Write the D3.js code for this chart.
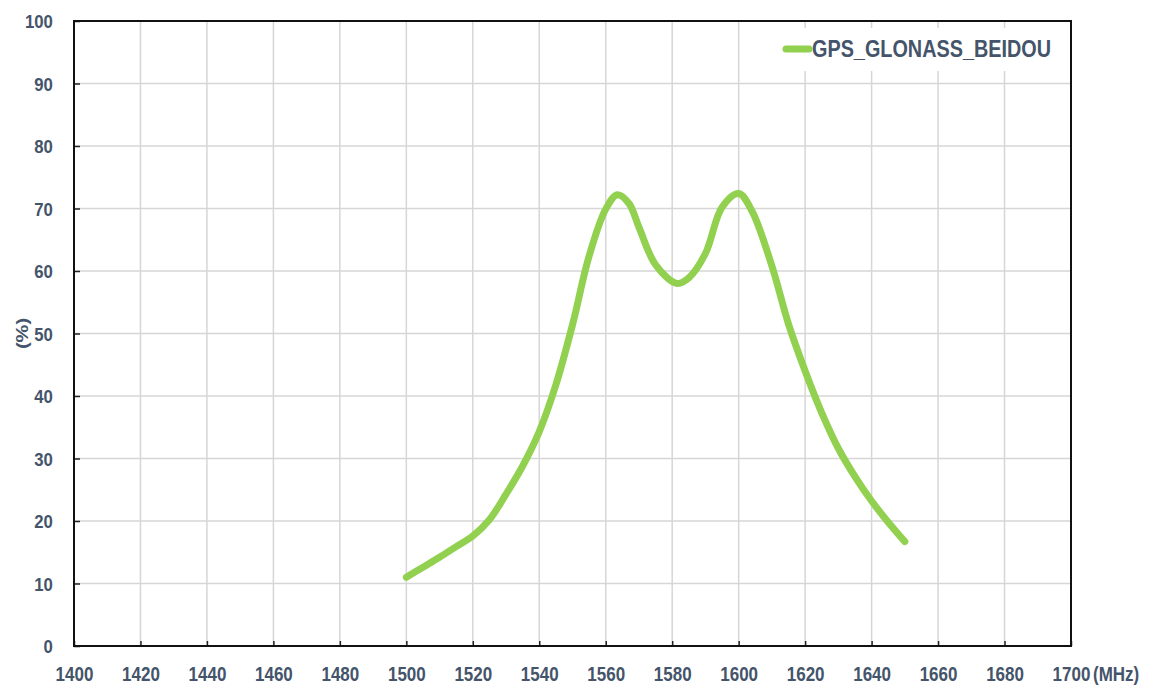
<!DOCTYPE html>
<html>
<head>
<meta charset="utf-8">
<script src="https://cdn.jsdelivr.net/npm/d3@7"></script>
<style>
  body { margin: 0; background: #fff; }
  svg { display: block; }
  .tick-label { font-family: "Liberation Sans", Arial, sans-serif; font-weight: bold; fill: #44546a; }
</style>
</head>
<body>
<div id="chart"></div>
<script>
'use strict';

// values
var freqs = [1500, 1505, 1510, 1515, 1520, 1525, 1530, 1535, 1540, 1545, 1550, 1555, 1560, 1563.5, 1567, 1570, 1575, 1581.5, 1585, 1590, 1595, 1600, 1604, 1610, 1615, 1620, 1625, 1630, 1635, 1640, 1645, 1650];
var efficiency = [11.0, 12.6, 14.2, 15.9, 17.6, 20.2, 24.3, 28.8, 34.3, 41.8, 51.4, 62.4, 69.9, 72.2, 70.8, 67.0, 61.0, 58.0, 58.9, 62.8, 70.2, 72.4, 69.6, 60.8, 51.5, 44.0, 37.3, 31.6, 27.1, 23.2, 19.8, 16.7];
var seriesName = "GPS_GLONASS_BEIDOU";
var xTicks = [1400, 1420, 1440, 1460, 1480, 1500, 1520, 1540, 1560, 1580, 1600, 1620, 1640, 1660, 1680, 1700];
var yTicks = [0, 10, 20, 30, 40, 50, 60, 70, 80, 90, 100];
var xUnit = "(MHz)";
var yUnit = "(%)";

var W = 1149, H = 686;
var margin = {top: 21, right: 78, bottom: 40, left: 74};
var width = W - margin.left - margin.right;
var height = H - margin.top - margin.bottom;

var svg = d3.select("#chart").append("svg")
    .attr("width", W)
    .attr("height", H);

var g = svg.append("g")
    .attr("transform", "translate(" + margin.left + "," + margin.top + ")");

var x = d3.scaleLinear().domain([1400, 1700]).range([0, width]);
var y = d3.scaleLinear().domain([0, 100]).range([height, 0]);

// grid
g.append("g").selectAll("line")
    .data(xTicks.slice(1, -1))
    .enter().append("line")
    .attr("x1", function(d) { return x(d); })
    .attr("x2", function(d) { return x(d); })
    .attr("y1", 0).attr("y2", height)
    .attr("stroke", "#d6d6d6").attr("stroke-width", 1.5);

g.append("g").selectAll("line")
    .data(yTicks.slice(1, -1))
    .enter().append("line")
    .attr("x1", 0).attr("x2", width)
    .attr("y1", function(d) { return y(d); })
    .attr("y2", function(d) { return y(d); })
    .attr("stroke", "#d6d6d6").attr("stroke-width", 1.5);

// axes (ticks point inward)
var xAxis = g.append("g")
    .attr("transform", "translate(0," + height + ")")
    .call(d3.axisBottom(x).tickValues(xTicks).tickFormat(d3.format("d"))
        .tickSizeInner(-5).tickSizeOuter(0).tickPadding(20));

var yAxis = g.append("g")
    .call(d3.axisLeft(y).tickValues(yTicks).tickFormat(d3.format("d"))
        .tickSizeInner(-6).tickSizeOuter(0).tickPadding(24));

[xAxis, yAxis].forEach(function(ax) {
    ax.select(".domain").remove();
    ax.selectAll(".tick line").attr("stroke", "#222").attr("stroke-width", 1.5);
    ax.selectAll(".tick text")
        .attr("class", "tick-label")
        .attr("fill", "#44546a");
});
xAxis.selectAll(".tick text")
    .style("font-size", "21px")
    .attr("transform", "scale(0.81,1)")
    .attr("dy", "0.71em");
yAxis.selectAll(".tick text")
    .style("font-size", "19px")
    .attr("transform", "scale(0.88,1)")
    .attr("dy", "0.36em");

// frame
g.append("rect")
    .attr("x", 0).attr("y", 0)
    .attr("width", width).attr("height", height)
    .attr("fill", "none")
    .attr("stroke", "#111")
    .attr("stroke-width", 2);

// unit labels
var unitX = 1093;
svg.append("text")
    .attr("class", "tick-label")
    .attr("transform", "translate(" + unitX + "," + (margin.top + height + 35) + ") scale(0.81,1)")
    .style("font-size", "21px")
    .text(xUnit);

svg.append("text")
    .attr("class", "tick-label")
    .attr("transform", "translate(28," + (margin.top + y(50)) + ") rotate(-90) scale(1,0.86)")
    .attr("text-anchor", "middle")
    .style("font-size", "20px")
    .text(yUnit);

// series line
var line = d3.line()
    .x(function(d) { return x(d[0]); })
    .y(function(d) { return y(d[1]); })
    .curve(d3.curveCatmullRom.alpha(0.5));

var pts = freqs.map(function(f, i) { return [f, efficiency[i]]; });

g.append("path")
    .datum(pts)
    .attr("d", line)
    .attr("fill", "none")
    .attr("stroke", "#92d050")
    .attr("stroke-width", 7)
    .attr("stroke-linecap", "round")
    .attr("stroke-linejoin", "round");

// legend
var legend = g.append("g").attr("transform", "translate(" + (770 - margin.left) + ",7)");
legend.append("rect")
    .attr("x", 0).attr("y", 0)
    .attr("width", 295).attr("height", 43)
    .attr("fill", "#fff");
legend.append("line")
    .attr("x1", 16).attr("x2", 39)
    .attr("y1", 21).attr("y2", 21)
    .attr("stroke", "#92d050")
    .attr("stroke-width", 7)
    .attr("stroke-linecap", "round");
legend.append("text")
    .attr("class", "tick-label")
    .attr("x", 42).attr("y", 21)
    .attr("dy", "0.36em")
    .attr("textLength", 239)
    .attr("lengthAdjust", "spacingAndGlyphs")
    .style("font-size", "23px")
    .text(seriesName);
</script>
</body>
</html>
